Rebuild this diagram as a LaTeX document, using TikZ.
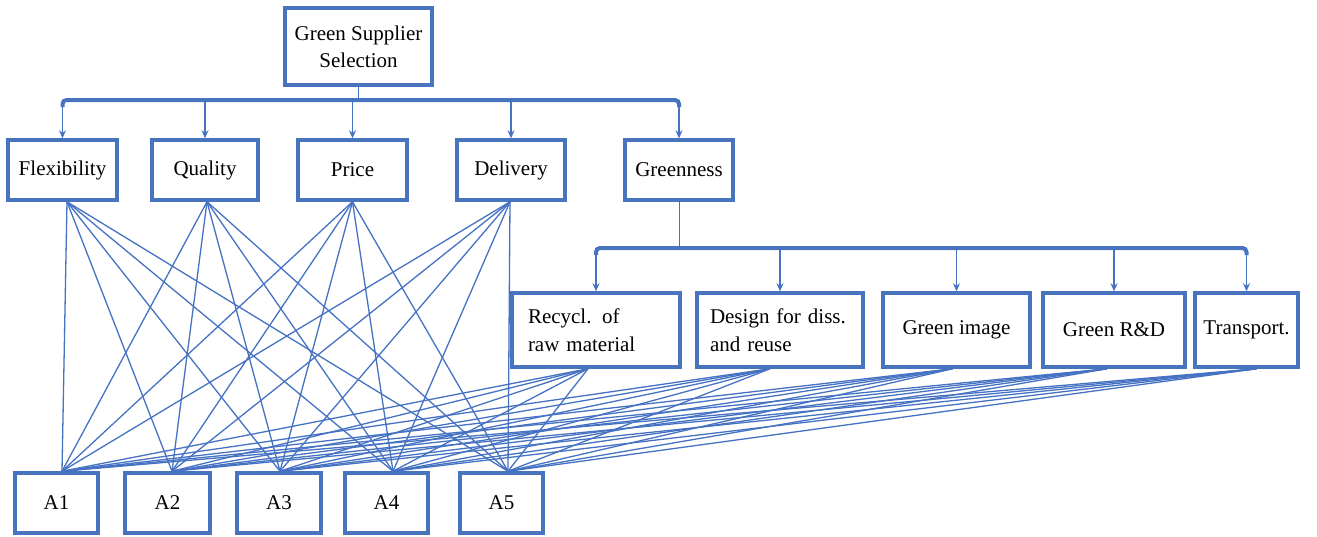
\documentclass[tikz,border=0pt]{standalone}
\usepackage{fontspec}
\setmainfont{Liberation Serif}
\usetikzlibrary{arrows.meta,calc}
\definecolor{boxblue}{RGB}{72,116,190}
\definecolor{lineblue}{RGB}{70,114,196}
\begin{document}
\begin{tikzpicture}[x=1pt,y=-1pt,
  box/.style={draw=boxblue,line width=3.5pt,fill=white,inner sep=2pt,
    font=\fontsize{21}{28}\selectfont,text=black},
  conn/.style={draw=lineblue,line width=1.3pt},
  arr/.style={draw=lineblue,line width=1.7pt,-{Stealth[length=8pt,width=7pt]}},
  bus/.style={draw=boxblue,line width=4pt,rounded corners=4pt},
]
\useasboundingbox[fill=white] (0,0) rectangle (1317,536);

% top
\node[box,minimum width=147,minimum height=77,align=center] (top) at (358.5,46.5) {Green Supplier\\[-1pt]Selection};

% criteria
\node[box,minimum width=109,minimum height=60] (Flex)  at (62.5,170) {Flexibility};
\node[box,minimum width=106,minimum height=60] (Qual)  at (205,170) {Quality};
\node[box,minimum width=109,minimum height=60] (Price) at (352.5,170) {Price};
\node[box,minimum width=108,minimum height=60] (Deliv) at (511,170) {Delivery};
\node[box,minimum width=108,minimum height=60] (Green) at (679,170) {Greenness};

% sub-criteria
\node[box,minimum width=168,minimum height=74,text width=136,align=left,inner xsep=16pt] (Rec) at (596,330) {Recycl. of\\raw material};
\node[box,minimum width=166,minimum height=74,text width=140,align=left,inner xsep=13pt] (Des) at (780,330) {Design for diss.\\and reuse};
\node[box,minimum width=147,minimum height=74] (Img) at (956.5,330) {Green image};
\node[box,minimum width=142,minimum height=74] (RD) at (1114,330) {Green R\&D};
\node[box,minimum width=103,minimum height=74] (Tra) at (1246.5,330) {Transport.};

% alternatives
\node[box,minimum width=83,minimum height=60] (A1) at (56.5,503) {A1};
\node[box,minimum width=85,minimum height=60] (A2) at (167.5,503) {A2};
\node[box,minimum width=84,minimum height=60] (A3) at (279,503) {A3};
\node[box,minimum width=83,minimum height=60] (A4) at (386.5,503) {A4};
\node[box,minimum width=83,minimum height=60] (A5) at (501.5,503) {A5};

% first bus
\coordinate (b1L) at (62.5,100);
\coordinate (b1R) at (679,100);
\draw[conn,line width=1.3pt] (top.south) -- (top.south |- b1L);
\draw[bus] ($(b1L)+(0,7)$) -- (b1L) -- (b1R) -- ($(b1R)+(0,7)$);
\foreach \n in {Flex,Qual,Price,Deliv,Green}
  \draw[arr] (\n.north |- b1L) -- (\n.north);

% second bus
\coordinate (b2L) at (596,248);
\coordinate (b2R) at (1246.5,248);
\draw[conn,line width=1pt] (Green.south) -- (Green.south |- b2L);
\draw[bus] ($(b2L)+(0,7)$) -- (b2L) -- (b2R) -- ($(b2R)+(0,7)$);
\foreach \n in {Rec,Des,Img,RD,Tra}
  \draw[arr] (\n.north |- b2L) -- (\n.north);

% origins and targets
\coordinate (oFlex)  at ([xshift=4.5pt]Flex.south);
\coordinate (oQual)  at ([xshift=2pt]Qual.south);
\coordinate (oPrice) at ([xshift=0pt]Price.south);
\coordinate (oDeliv) at ([xshift=-1pt]Deliv.south);
\coordinate (oRec)   at ([xshift=-8pt]Rec.south);
\coordinate (oDes)   at ([xshift=-10pt]Des.south);
\coordinate (oImg)   at ([xshift=-4pt]Img.south);
\coordinate (oRD)    at ([xshift=-7pt]RD.south);
\coordinate (oTra)   at ([xshift=10pt]Tra.south);
\coordinate (tA1) at ([xshift=5.5pt]A1.north);
\coordinate (tA2) at ([xshift=4.5pt]A2.north);
\coordinate (tA3) at ([xshift=1pt]A3.north);
\coordinate (tA4) at ([xshift=6.5pt]A4.north);
\coordinate (tA5) at ([xshift=6.5pt]A5.north);

\foreach \o in {oFlex,oQual,oPrice,oDeliv,oRec,oDes,oImg,oRD,oTra}
  \foreach \t in {tA1,tA2,tA3,tA4,tA5}
    \draw[conn] (\o) -- (\t);
\end{tikzpicture}
\end{document}
